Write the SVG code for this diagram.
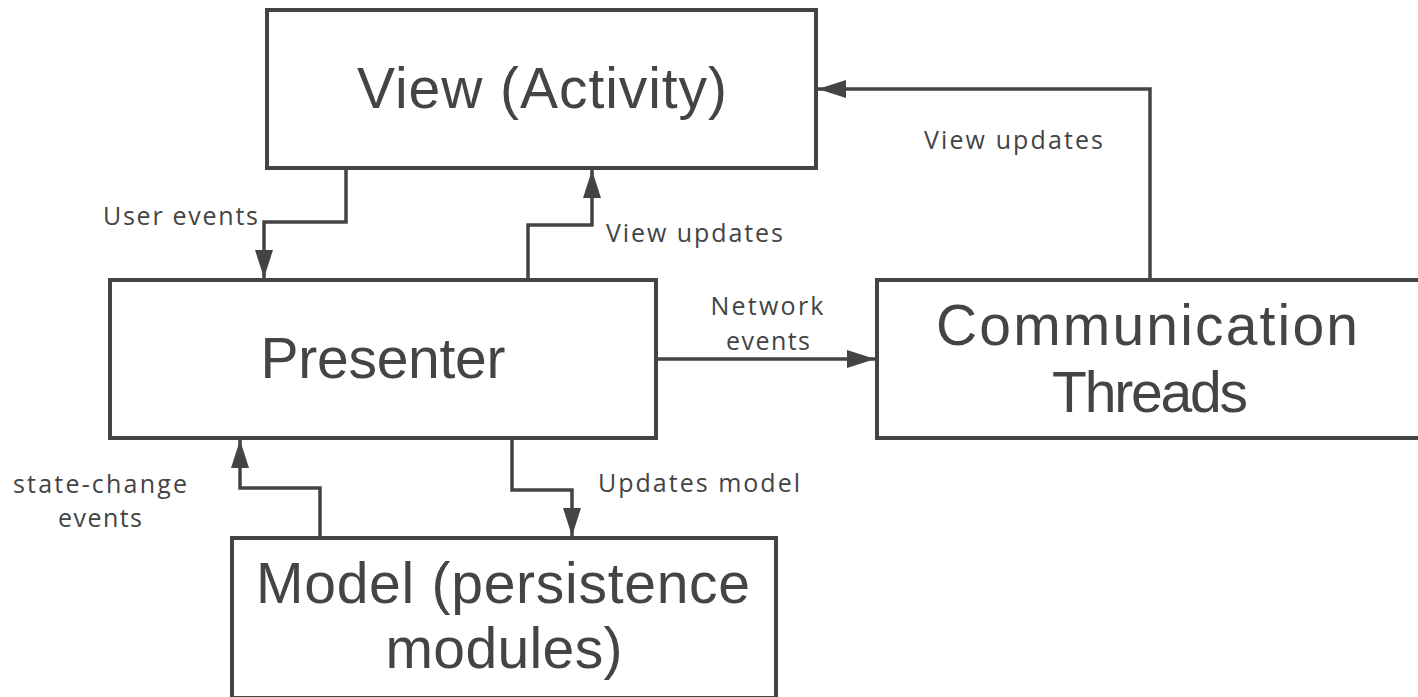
<svg xmlns="http://www.w3.org/2000/svg" width="1418" height="697" viewBox="0 0 1418 697">
<style>
.box{fill:#fff;stroke:#444;stroke-width:4}
.big{font-family:"Liberation Sans","Open Sans",sans-serif;font-size:57px;fill:#444;text-anchor:middle}
.lbl{font-family:"Open Sans","Noto Sans",sans-serif;font-size:25px;fill:#444}
.con{fill:none;stroke:#444;stroke-width:3.5}
</style>
<defs>
<marker id="ah" viewBox="0 0 28 18" refX="28" refY="9" markerWidth="28" markerHeight="18" markerUnits="userSpaceOnUse" orient="auto">
<path d="M0,0 L28,9 L0,18 z" fill="#444"/>
</marker>
</defs>
<rect width="1418" height="697" fill="#fff"/>
<g id="connectors">
<path class="con" d="M346,168 V222 H264 V278" marker-end="url(#ah)"/>
<path class="con" d="M528,280 V225 H592 V170" marker-end="url(#ah)"/>
<path class="con" d="M656,359 H875" marker-end="url(#ah)"/>
<path class="con" d="M1150,280 V89 H818" marker-end="url(#ah)"/>
<path class="con" d="M320,538 V488 H240 V440" marker-end="url(#ah)"/>
<path class="con" d="M512,438 V490 H572 V536" marker-end="url(#ah)"/>
<text class="lbl" x="103" y="225" textLength="155">User events</text>
<text class="lbl" x="606" y="242" textLength="177">View updates</text>
<text class="lbl" text-anchor="middle"><tspan x="767" y="315" textLength="113">Network</tspan><tspan x="768" y="350" textLength="84">events</tspan></text>
<text class="lbl" x="924" y="149" textLength="179">View updates</text>
<text class="lbl" text-anchor="middle"><tspan x="100" y="493" textLength="174">state-change</tspan><tspan x="100" y="527" textLength="84">events</tspan></text>
<text class="lbl" x="598" y="492" textLength="202">Updates model</text>
</g>
<g id="view">
<rect class="box" x="267" y="10" width="549" height="158"/>
<text class="big" x="542" y="108" textLength="370">View (Activity)</text>
</g>
<g id="presenter">
<rect class="box" x="110" y="280" width="546" height="158"/>
<text class="big" x="383" y="378" textLength="245">Presenter</text>
</g>
<g id="comm">
<rect class="box" x="877" y="280" width="543" height="158"/>
<text class="big"><tspan x="1147" y="345" textLength="422">Communication</tspan><tspan x="1150" y="412" textLength="196">Threads</tspan></text>
</g>
<g id="model">
<rect class="box" x="232" y="538" width="544" height="160"/>
<text class="big"><tspan x="503" y="603" textLength="494">Model (persistence</tspan><tspan x="504" y="668" textLength="237">modules)</tspan></text>
</g>
</svg>
